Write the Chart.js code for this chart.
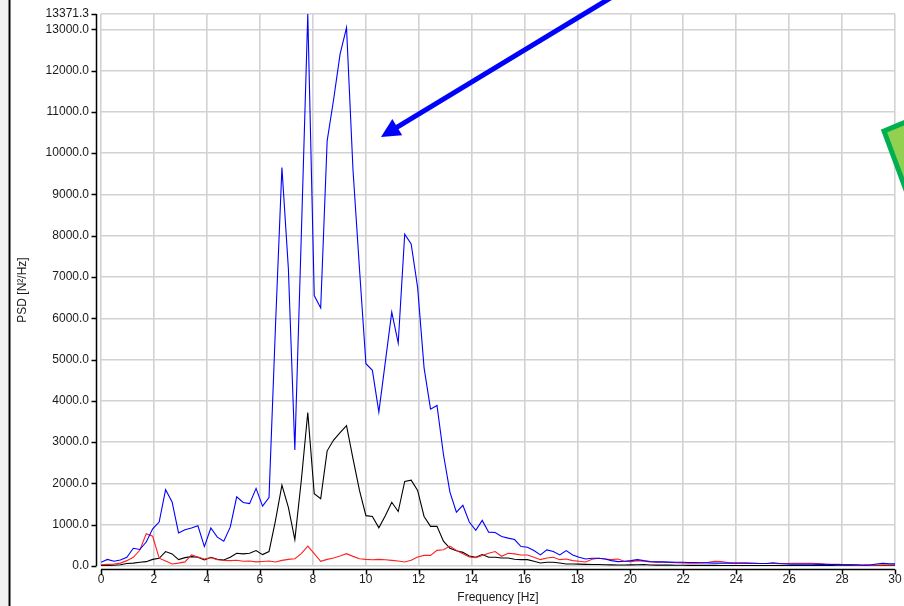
<!DOCTYPE html>
<html>
<head>
<meta charset="utf-8">
<script src="https://cdn.jsdelivr.net/npm/chart.js@4/dist/chart.umd.min.js"></script>
<style>
  html, body { margin: 0; padding: 0; background: #ffffff; }
  #wrap { width: 904px; height: 606px; position: relative; }
</style>
</head>
<body>
<div id="wrap"><canvas id="c" width="904" height="606"></canvas></div>
<script>
// Frequency bins [Hz]
const freqs = [0, 0.244, 0.488, 0.732, 0.977, 1.221, 1.465, 1.709, 1.953, 2.197, 2.441, 2.686, 2.930, 3.174, 3.418, 3.662, 3.906, 4.150, 4.395, 4.639, 4.883, 5.127, 5.371, 5.615, 5.859, 6.104, 6.348, 6.592, 6.836, 7.080, 7.324, 7.568, 7.813, 8.057, 8.301, 8.545, 8.789, 9.033, 9.277, 9.521, 9.766, 10.010, 10.254, 10.498, 10.742, 10.986, 11.230, 11.475, 11.719, 11.963, 12.207, 12.451, 12.695, 12.939, 13.184, 13.428, 13.672, 13.916, 14.160, 14.404, 14.648, 14.893, 15.137, 15.381, 15.625, 15.869, 16.113, 16.357, 16.602, 16.846, 17.090, 17.334, 17.578, 17.822, 18.066, 18.311, 18.555, 18.799, 19.043, 19.287, 19.531, 19.775, 20.020, 20.264, 20.508, 20.752, 20.996, 21.240, 21.484, 21.729, 21.973, 22.217, 22.461, 22.705, 22.949, 23.193, 23.438, 23.682, 23.926, 24.170, 24.414, 24.658, 24.902, 25.146, 25.391, 25.635, 25.879, 26.123, 26.367, 26.611, 26.855, 27.100, 27.344, 27.588, 27.832, 28.076, 28.320, 28.564, 28.809, 29.053, 29.297, 29.541, 29.785, 30.029];

// PSD series [N²/Hz]
const psdBlue = [90, 160, 115, 145, 210, 430, 400, 580, 900, 1065, 1850, 1550, 800, 880, 920, 975, 470, 920, 700, 600, 940, 1675, 1540, 1510, 1880, 1450, 1660, 5800, 9650, 7200, 2810, 8000, 13371.3, 6550, 6250, 10300, 11300, 12400, 13040, 9600, 7200, 4900, 4740, 3730, 4940, 6150, 5400, 8040, 7800, 6750, 4800, 3800, 3890, 2700, 1790, 1305, 1470, 1065, 865, 1105, 820, 813, 715, 675, 640, 470, 455, 374, 268, 390, 350, 268, 374, 268, 211, 170, 187, 187, 170, 130, 106, 114, 130, 155, 130, 110, 100, 100, 95, 90, 90, 85, 85, 80, 75, 70, 70, 70, 65, 65, 70, 65, 60, 60, 80, 60, 50, 45, 45, 50, 45, 40, 40, 35, 35, 30, 30, 30, 20, 25, 50, 65, 55, 50];

const psdBlack = [10, 15, 20, 30, 60, 70, 90, 105, 160, 187, 350, 293, 155, 203, 228, 211, 146, 211, 163, 146, 211, 309, 293, 309, 374, 276, 350, 1100, 1960, 1420, 640, 2070, 3720, 1750, 1630, 2790, 3050, 3230, 3400, 2600, 1830, 1220, 1200, 925, 1220, 1545, 1320, 2050, 2080, 1830, 1200, 960, 960, 600, 430, 370, 330, 240, 211, 276, 211, 211, 195, 195, 163, 154, 154, 114, 73, 90, 90, 73, 49, 49, 45, 40, 38, 35, 30, 28, 25, 25, 28, 30, 35, 25, 22, 20, 20, 18, 18, 16, 15, 15, 14, 14, 13, 12, 12, 12, 11, 10, 10, 10, 10, 9, 9, 9, 9, 8, 8, 8, 8, 8, 7, 7, 7, 7, 6, 6, 6, 6, 6, 6];

const psdRed = [30, 40, 50, 70, 130, 210, 380, 780, 720, 190, 120, 50, 70, 100, 270, 220, 170, 200, 150, 135, 130, 140, 115, 120, 100, 110, 120, 97, 137, 160, 177, 298, 483, 298, 113, 161, 193, 241, 298, 233, 177, 161, 153, 161, 153, 137, 121, 97, 137, 217, 257, 257, 378, 394, 483, 378, 298, 217, 200, 252, 309, 350, 236, 309, 293, 268, 268, 211, 154, 195, 211, 154, 170, 130, 114, 98, 163, 187, 170, 154, 170, 114, 106, 130, 114, 100, 95, 90, 85, 80, 75, 70, 70, 75, 90, 115, 110, 85, 75, 80, 70, 65, 60, 60, 60, 55, 60, 65, 65, 65, 68, 60, 45, 40, 40, 38, 35, 25, 20, 20, 25, 30, 30, 30];

// Axis ticks
const xTicks = [0, 2, 4, 6, 8, 10, 12, 14, 16, 18, 20, 22, 24, 26, 28, 30];
const yTicks = [0, 1000, 2000, 3000, 4000, 5000, 6000, 7000, 8000, 9000, 10000, 11000, 12000, 13000, 13371.3];
const yMax = 13371.3;

const FONT = "'Liberation Sans', Arial, sans-serif";
const toXY = arr => freqs.map((f, i) => ({ x: f, y: arr[i] }));

const decor = {
  id: 'decor',
  beforeDraw(chart) {
    const ctx = chart.ctx;
    ctx.save();
    ctx.fillStyle = '#ffffff';
    ctx.fillRect(0, 0, chart.width, chart.height);
    ctx.fillStyle = '#f0f0f0';
    ctx.fillRect(0, 0, 8, chart.height);
    ctx.strokeStyle = '#000000';
    ctx.lineWidth = 2;
    ctx.beginPath(); ctx.moveTo(9.5, 0); ctx.lineTo(9.5, chart.height); ctx.stroke();
    ctx.restore();
  },
  afterDraw(chart) {
    const ctx = chart.ctx;
    const xs = chart.scales.x, ys = chart.scales.y;
    const a = chart.chartArea;
    ctx.save();
    // black axes
    ctx.strokeStyle = '#000000';
    ctx.lineWidth = 1.5;
    const axX = Math.round(a.left) - 4.5;
    const axY = Math.round(a.bottom) + 3.5;
    ctx.beginPath();
    ctx.moveTo(axX, a.top); ctx.lineTo(axX, a.bottom);
    yTicks.forEach(v => { const p = Math.round(ys.getPixelForValue(v)) + 0.5; ctx.moveTo(axX - 5, p); ctx.lineTo(axX, p); });
    ctx.moveTo(a.left, axY); ctx.lineTo(a.right, axY);
    xTicks.forEach(v => { const p = Math.round(xs.getPixelForValue(v)) + 0.5; ctx.moveTo(p, axY); ctx.lineTo(p, axY + 5); });
    ctx.stroke();

    // blue arrow annotation
    const tip = [381, 137], tail = [612, -3];
    const dx = tip[0] - tail[0], dy = tip[1] - tail[1];
    const L = Math.hypot(dx, dy), ux = dx / L, uy = dy / L;
    const hl = 19, hw = 9.5;
    const bx = tip[0] - ux * hl, by = tip[1] - uy * hl;
    ctx.strokeStyle = '#0000ff';
    ctx.fillStyle = '#0000ff';
    ctx.lineWidth = 5;
    ctx.beginPath(); ctx.moveTo(tail[0], tail[1]); ctx.lineTo(bx + ux * 2, by + uy * 2); ctx.stroke();
    ctx.beginPath();
    ctx.moveTo(tip[0], tip[1]);
    ctx.lineTo(bx - uy * hw, by + ux * hw);
    ctx.lineTo(bx + uy * hw, by - ux * hw);
    ctx.closePath(); ctx.fill();

    // green shape at right edge
    const A = [884, 131];
    const e1 = [0.92, -0.38], e2 = [0.35, 0.94], s = 75;
    ctx.beginPath();
    ctx.moveTo(A[0], A[1]);
    ctx.lineTo(A[0] + e1[0] * s, A[1] + e1[1] * s);
    ctx.lineTo(A[0] + e1[0] * s + e2[0] * s, A[1] + e1[1] * s + e2[1] * s);
    ctx.lineTo(A[0] + e2[0] * s, A[1] + e2[1] * s);
    ctx.closePath();
    ctx.fillStyle = '#92d050';
    ctx.fill();
    ctx.strokeStyle = '#00b050';
    ctx.lineWidth = 5;
    ctx.lineJoin = 'miter';
    ctx.stroke();
    ctx.restore();
  }
};

new Chart(document.getElementById('c'), {
  type: 'line',
  data: {
    datasets: [
      { label: 'PSD 1', data: toXY(psdBlue), borderColor: '#0000ff', borderWidth: 1.1 },
      { label: 'PSD 2', data: toXY(psdRed), borderColor: '#ff2020', borderWidth: 1.1 },
      { label: 'PSD 3', data: toXY(psdBlack), borderColor: '#000000', borderWidth: 1.1 }
    ]
  },
  options: {
    responsive: false,
    animation: false,
    devicePixelRatio: 1,
    layout: { padding: { left: 0, right: 9, top: 14, bottom: 0 } },
    elements: { point: { radius: 0 }, line: { tension: 0, fill: false } },
    plugins: { legend: { display: false }, tooltip: { enabled: false } },
    scales: {
      x: {
        type: 'linear', min: 0, max: 30,
        afterBuildTicks: s => { s.ticks = xTicks.map(v => ({ value: v })); },
        afterFit: s => { s.height = 40; },
        ticks: { color: '#1a1a1a', font: { family: FONT, size: 12 }, padding: 0, maxRotation: 0, autoSkip: false,
                 callback: v => String(v) },
        grid: { color: '#d2d2d2', lineWidth: 1.6, drawTicks: true, tickLength: 6, tickColor: 'rgba(0,0,0,0)' },
        border: { display: false },
        title: { display: true, text: 'Frequency [Hz]', color: '#1a1a1a', font: { family: FONT, size: 12 }, padding: { top: 0, bottom: 1 } }
      },
      y: {
        type: 'linear', min: 0, max: yMax,
        afterBuildTicks: s => { s.ticks = yTicks.map(v => ({ value: v })); },
        afterFit: s => { s.width = 101; },
        ticks: { color: '#1a1a1a', font: { family: FONT, size: 12 }, padding: 0, autoSkip: false,
                 callback: v => Number(v).toFixed(1) },
        grid: { color: '#d2d2d2', lineWidth: 1.6, drawTicks: true, tickLength: 12, tickColor: 'rgba(0,0,0,0)' },
        border: { display: false },
        title: { display: true, text: 'PSD [N²/Hz]', color: '#1a1a1a', font: { family: FONT, size: 12 }, padding: { top: 15, bottom: 0 } }
      }
    }
  },
  plugins: [decor]
});
</script>
</body>
</html>
